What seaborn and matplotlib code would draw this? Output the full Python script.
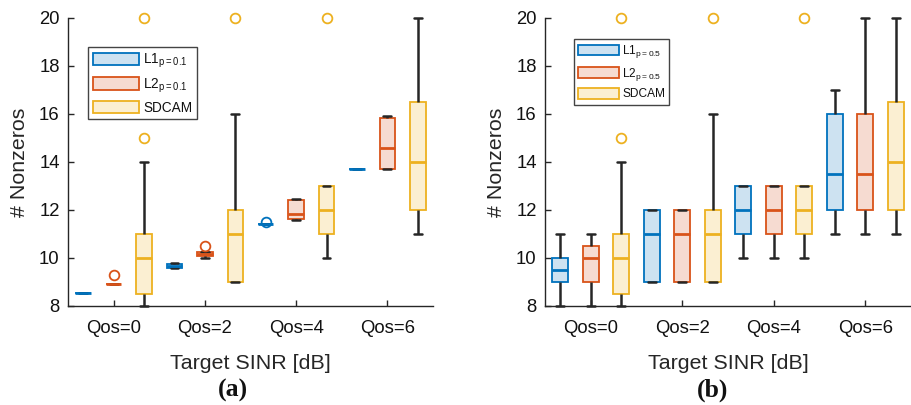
import numpy as np
import pandas as pd
import matplotlib
matplotlib.use("Agg")
import matplotlib.pyplot as plt
import seaborn as sns
from matplotlib.patches import Patch

# ---------------- data ----------------
groups = ["Qos=0", "Qos=2", "Qos=4", "Qos=6"]
methods = ["L1", "L2", "SDCAM"]

# Panel (a): box statistics per group (whisker low, q1, median, q3, whisker high, outliers)
a_L1_lo = [8.53, 9.57, 11.43, 13.71]
a_L1_q1 = [8.53, 9.57, 11.43, 13.71]
a_L1_med = [8.53, 9.67, 11.43, 13.71]
a_L1_q3 = [8.53, 9.74, 11.43, 13.71]
a_L1_hi = [8.53, 9.80, 11.43, 13.71]
a_L1_out = [[], [], [11.51], []]

a_L2_lo = [8.93, 10.00, 11.58, 13.71]
a_L2_q1 = [8.93, 10.10, 11.61, 13.71]
a_L2_med = [8.93, 10.17, 11.82, 14.60]
a_L2_q3 = [8.93, 10.24, 12.42, 15.82]
a_L2_hi = [8.93, 10.24, 12.44, 15.92]
a_L2_out = [[9.31], [10.51], [], []]

a_SD_lo = [8.0, 9.0, 10.0, 11.0]
a_SD_q1 = [8.5, 9.0, 11.0, 12.0]
a_SD_med = [10.0, 11.0, 12.0, 14.0]
a_SD_q3 = [11.0, 12.0, 13.0, 16.5]
a_SD_hi = [14.0, 16.0, 13.0, 20.0]
a_SD_out = [[15.0, 20.0], [20.0], [20.0], []]

# Panel (b)
b_L1_lo = [8.0, 9.0, 10.0, 11.0]
b_L1_q1 = [9.0, 9.0, 11.0, 12.0]
b_L1_med = [9.5, 11.0, 12.0, 13.5]
b_L1_q3 = [10.0, 12.0, 13.0, 16.0]
b_L1_hi = [11.0, 12.0, 13.0, 17.0]
b_L1_out = [[], [], [], []]

b_L2_lo = [8.0, 9.0, 10.0, 11.0]
b_L2_q1 = [9.0, 9.0, 11.0, 12.0]
b_L2_med = [10.0, 11.0, 12.0, 13.5]
b_L2_q3 = [10.5, 12.0, 13.0, 16.0]
b_L2_hi = [11.0, 12.0, 13.0, 20.0]
b_L2_out = [[], [], [], []]

b_SD_lo = [8.0, 9.0, 10.0, 11.0]
b_SD_q1 = [8.5, 9.0, 11.0, 12.0]
b_SD_med = [10.0, 11.0, 12.0, 14.0]
b_SD_q3 = [11.0, 12.0, 13.0, 16.5]
b_SD_hi = [14.0, 16.0, 13.0, 20.0]
b_SD_out = [[15.0, 20.0], [20.0], [20.0], []]

legend_a = [r"L1$_\mathregular{p{=}0.1}$", r"L2$_\mathregular{p{=}0.1}$", "SDCAM"]
legend_b = [r"L1$_\mathregular{p{=}0.5}$", r"L2$_\mathregular{p{=}0.5}$", "SDCAM"]

line_colors = ["#0072BD", "#D95319", "#EDB120"]
fill_colors = ["#cde2f1", "#f6dbd1", "#fbefd2"]
dark = "#262626"


def samples(lo, q1, med, q3, hi, out):
    # 13 sorted points whose quartiles (linear interpolation) equal q1/med/q3
    tail = list(out) + [hi] * (2 - len(out))
    return [lo, q1, q1, q1, med, med, med, med, med, q3, hi] + sorted(tail)


def build(stats):
    rows = []
    for m, (lo, q1, med, q3, hi, out) in zip(methods, stats):
        for i, g in enumerate(groups):
            for v in samples(lo[i], q1[i], med[i], q3[i], hi[i], out[i]):
                rows.append({"qos": g, "method": m, "value": v})
    return pd.DataFrame(rows)


df_a = build([
    (a_L1_lo, a_L1_q1, a_L1_med, a_L1_q3, a_L1_hi, a_L1_out),
    (a_L2_lo, a_L2_q1, a_L2_med, a_L2_q3, a_L2_hi, a_L2_out),
    (a_SD_lo, a_SD_q1, a_SD_med, a_SD_q3, a_SD_hi, a_SD_out),
])
df_b = build([
    (b_L1_lo, b_L1_q1, b_L1_med, b_L1_q3, b_L1_hi, b_L1_out),
    (b_L2_lo, b_L2_q1, b_L2_med, b_L2_q3, b_L2_hi, b_L2_out),
    (b_SD_lo, b_SD_q1, b_SD_med, b_SD_q3, b_SD_hi, b_SD_out),
])

# ---------------- style ----------------
sns.set_style("ticks")
plt.rcParams["font.family"] = ["Liberation Sans", "DejaVu Sans"]
plt.rcParams["mathtext.fontset"] = "custom"
plt.rcParams["mathtext.rm"] = "Liberation Sans"
plt.rcParams["text.color"] = "#111111"

fig = plt.figure(figsize=(9.11, 4.05), dpi=100)
ax_a = fig.add_axes([68 / 911, 1 - 306 / 405, 365 / 911, 288 / 405])
ax_b = fig.add_axes([545 / 911, 1 - 306 / 405, 366 / 911, 288 / 405])


def draw(ax, df, labels, anchor, lfs):
    for m, lc, fc in zip(methods, line_colors, fill_colors):
        sub = df[df["method"] == m]
        sns.boxplot(
            data=sub, x="qos", y="value", hue="method",
            order=groups, hue_order=methods,
            palette={mm: fc for mm in methods}, saturation=1,
            linecolor=lc, linewidth=1.3, width=1.0, gap=0.49, dodge=True,
            legend=False, ax=ax,
            whiskerprops=dict(color=dark, linewidth=1.8),
            capprops=dict(color=dark, linewidth=1.8),
            medianprops=dict(color=lc, linewidth=2.0),
            flierprops=dict(marker="o", markerfacecolor="none",
                            markeredgecolor=lc, markersize=7,
                            markeredgewidth=1.3),
        )
    for art in list(ax.lines) + list(ax.patches):
        art.set_clip_on(False)
    ax.set_xlim(-0.5, 3.5)
    ax.set_ylim(8, 20)
    ax.set_yticks([8, 10, 12, 14, 16, 18, 20])
    sns.despine(ax=ax)
    for s in ["left", "bottom"]:
        ax.spines[s].set_color(dark)
        ax.spines[s].set_linewidth(1.0)
    ax.tick_params(axis="x", pad=10)
    ax.tick_params(axis="y", pad=6)
    ax.tick_params(direction="in", length=4, width=1.0, color=dark,
                   labelsize=13.3, labelcolor="#111111")
    ax.set_xlabel("Target SINR [dB]", fontsize=15.4, labelpad=12)
    ax.set_ylabel("# Nonzeros", fontsize=15.4, labelpad=7)
    handles = [Patch(facecolor=fc, edgecolor=lc, linewidth=1.3)
               for lc, fc in zip(line_colors, fill_colors)]
    leg = ax.legend(handles, labels, loc="upper left", bbox_to_anchor=anchor,
                    borderaxespad=0, fontsize=lfs, fancybox=False,
                    frameon=True, edgecolor="#444444", framealpha=1,
                    handlelength=3.4, handleheight=1.0, handletextpad=0.3,
                    labelspacing=0.45, borderpad=0.35)
    leg.get_frame().set_linewidth(1.0)


draw(ax_a, df_a, legend_a, (0.055, 0.899), 9.8)
draw(ax_b, df_b, legend_b, (0.079, 0.927), 8.6)

fig.text(233 / 911, 1 - 390 / 405, "(a)", ha="center", va="center",
         fontsize=18.5, fontweight="bold", family="Liberation Serif")
fig.text(713 / 911, 1 - 390 / 405, "(b)", ha="center", va="center",
         fontsize=18.5, fontweight="bold", family="Liberation Serif")

fig.savefig("out.png", dpi=100)
